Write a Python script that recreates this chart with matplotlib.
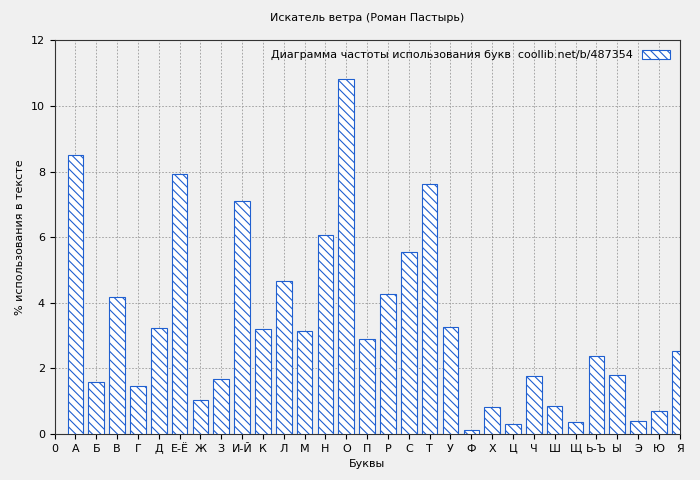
import matplotlib
matplotlib.use("Agg")
import matplotlib.pyplot as plt

letters = ["А", "Б", "В", "Г", "Д", "Е-Ё", "Ж", "З", "И-Й", "К", "Л", "М", "Н", "О", "П",
           "Р", "С", "Т", "У", "Ф", "Х", "Ц", "Ч", "Ш", "Щ", "Ь-Ъ", "Ы", "Э", "Ю", "Я"]
percent = [8.50, 1.58, 4.18, 1.46, 3.23, 7.93, 1.04, 1.68, 7.10, 3.20, 4.66, 3.14, 6.07, 10.82, 2.90,
           4.27, 5.55, 7.62, 3.26, 0.12, 0.82, 0.30, 1.77, 0.85, 0.37, 2.38, 1.80, 0.40, 0.70, 2.53]

blue = "#1f5fd0"
plt.rcParams["hatch.color"] = blue
plt.rcParams["hatch.linewidth"] = 0.8

fig = plt.figure(figsize=(7, 4.8), dpi=100, facecolor="#f0f0f0")
ax = fig.add_axes([0.078, 0.096, 0.893, 0.82])
ax.set_facecolor("#f0f0f0")

x = list(range(1, len(letters) + 1))
ax.bar(x, percent, width=0.75, color="white", edgecolor=blue, hatch="\\\\\\\\", linewidth=0.8,
       label="Диаграмма частоты использования букв  coollib.net/b/487354", zorder=3)

ax.set_xlim(0, 30)
ax.set_ylim(0, 12)
ax.set_xticks(range(0, 31))
ax.set_xticklabels(["0"] + letters, fontsize=8)
ax.set_yticks(range(0, 13, 2))
ax.tick_params(axis="y", labelsize=8)
ax.grid(True, color="#999999", linestyle=(0, (2, 2)), linewidth=0.6, zorder=0)
for s in ax.spines.values():
    s.set_color("#333333")

ax.set_xlabel("Буквы", fontsize=8)
ax.set_ylabel("% использования в тексте", fontsize=8)
ax.set_title("Искатель ветра (Роман Пастырь)", fontsize=8, pad=14)
leg = ax.legend(loc="upper right", fontsize=8, frameon=False, markerfirst=False,
                handlelength=2.5, handleheight=0.8)

fig.savefig("out.png", dpi=100, facecolor=fig.get_facecolor())
